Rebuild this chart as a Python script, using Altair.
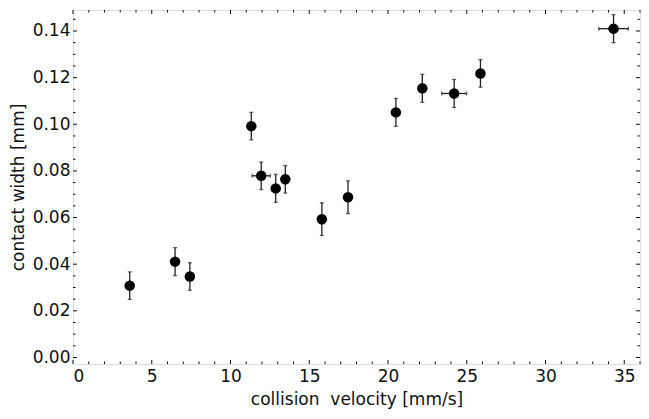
import altair as alt
import pandas as pd

# ---- data ----
velocity = [3.6, 6.48, 7.42, 11.32, 11.95, 12.87, 13.48, 15.8, 17.46, 20.5, 22.18, 24.2, 25.87, 34.32]
width_mm = [0.0308, 0.0411, 0.0347, 0.0992, 0.0779, 0.0725, 0.0764, 0.0593, 0.0687, 0.1051, 0.1154, 0.1132, 0.1218, 0.1410]
width_err = [0.0059, 0.006, 0.0059, 0.0059, 0.0059, 0.006, 0.0059, 0.007, 0.007, 0.006, 0.006, 0.006, 0.0059, 0.006]
velocity_err = [0, 0, 0, 0, 0.58, 0, 0, 0, 0, 0, 0, 0.79, 0, 0.94]

x_major = [0, 5, 10, 15, 20, 25, 30, 35]
x_minor = [v for v in range(0, 37) if v % 5 != 0]
y_major = [0.0, 0.02, 0.04, 0.06, 0.08, 0.10, 0.12, 0.14]
y_minor = [round(0.005 * k, 3) for k in range(0, 30) if k % 4 != 0]

X_DOMAIN = [0, 36]
Y_DOMAIN = [-0.0028, 0.149]
W, H = 567, 354
FONT = "DejaVu Sans"
INK = "#111111"

df = pd.DataFrame({
    "v": velocity, "w": width_mm,
    "w_lo": [a - b for a, b in zip(width_mm, width_err)],
    "w_hi": [a + b for a, b in zip(width_mm, width_err)],
    "v_lo": [a - b for a, b in zip(velocity, velocity_err)],
    "v_hi": [a + b for a, b in zip(velocity, velocity_err)],
    "ve": velocity_err,
})
dfx = df[df["ve"] > 0]

xs = alt.Scale(domain=X_DOMAIN, nice=False, zero=False)
ys = alt.Scale(domain=Y_DOMAIN, nice=False, zero=False)

x_axis = alt.Axis(values=x_major, ticks=False, domain=False, grid=False, labelPadding=4,
                  labelFontSize=17, labelFont=FONT, labelColor=INK,
                  title="collision\u00a0 velocity [mm/s]", titleFont=FONT, titleFontSize=17,
                  titleFontWeight="normal", titleColor=INK, titlePadding=7)
y_axis = alt.Axis(values=y_major, format=".2f", ticks=False, domain=False, grid=False, labelPadding=3,
                  labelFontSize=17, labelFont=FONT, labelColor=INK,
                  title="contact width [mm]", titleFont=FONT, titleFontSize=17,
                  titleFontWeight="normal", titleColor=INK, titlePadding=5)

base = alt.Chart(df)
EC = "#222"

ebar_y = base.mark_rule(color=EC, strokeWidth=1.3).encode(
    x=alt.X("v:Q", scale=xs, axis=x_axis),
    y=alt.Y("w_lo:Q", scale=ys, axis=y_axis),
    y2="w_hi:Q",
)
cap_lo = base.mark_tick(color=EC, thickness=1.3, size=4, orient="horizontal").encode(
    x=alt.X("v:Q", scale=xs), y=alt.Y("w_lo:Q", scale=ys))
cap_hi = base.mark_tick(color=EC, thickness=1.3, size=4, orient="horizontal").encode(
    x=alt.X("v:Q", scale=xs), y=alt.Y("w_hi:Q", scale=ys))

bx = alt.Chart(dfx)
ebar_x = bx.mark_rule(color=EC, strokeWidth=1.3).encode(
    x=alt.X("v_lo:Q", scale=xs), x2="v_hi:Q", y=alt.Y("w:Q", scale=ys))
capx_lo = bx.mark_tick(color=EC, thickness=1.3, size=4, orient="vertical").encode(
    x=alt.X("v_lo:Q", scale=xs), y=alt.Y("w:Q", scale=ys))
capx_hi = bx.mark_tick(color=EC, thickness=1.3, size=4, orient="vertical").encode(
    x=alt.X("v_hi:Q", scale=xs), y=alt.Y("w:Q", scale=ys))

points = base.mark_point(filled=True, color="black", opacity=1, size=110, shape="circle").encode(
    x=alt.X("v:Q", scale=xs), y=alt.Y("w:Q", scale=ys))

txM = pd.DataFrame({"t": x_major})
txm = pd.DataFrame({"t": x_minor})
tyM = pd.DataFrame({"t": y_major})
tym = pd.DataFrame({"t": y_minor})

def xt(d, L):
    bot = alt.Chart(d).mark_rule(color=INK, strokeWidth=1).encode(
        x=alt.X("t:Q", scale=xs), y=alt.value(H), y2=alt.value(H - L))
    top = alt.Chart(d).mark_rule(color=INK, strokeWidth=1).encode(
        x=alt.X("t:Q", scale=xs), y=alt.value(0), y2=alt.value(L))
    return bot + top

def yt(d, L):
    lef = alt.Chart(d).mark_rule(color=INK, strokeWidth=1).encode(
        y=alt.Y("t:Q", scale=ys), x=alt.value(0), x2=alt.value(L))
    rig = alt.Chart(d).mark_rule(color=INK, strokeWidth=1).encode(
        y=alt.Y("t:Q", scale=ys), x=alt.value(W), x2=alt.value(W - L))
    return lef + rig

chart = alt.layer(
    ebar_y, cap_lo, cap_hi, ebar_x, capx_lo, capx_hi, points,
    xt(txM, 4), xt(txm, 2.5), yt(tyM, 4), yt(tym, 2.5),
).properties(
    width=W, height=H,
    autosize=alt.AutoSizeParams(type="none"),
    padding={"left": 65, "top": 2, "right": 1, "bottom": 48},
).configure_view(
    stroke=INK, strokeWidth=1.2
).configure(background="white")

chart.save("out.html", embed_options={"renderer": "svg", "actions": False})
